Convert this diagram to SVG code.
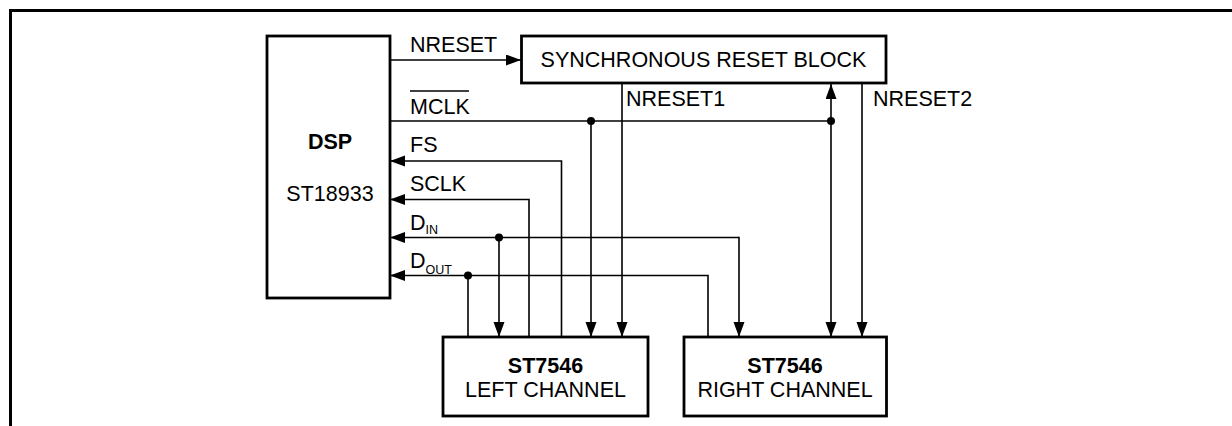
<svg xmlns="http://www.w3.org/2000/svg" width="1232" height="426" viewBox="0 0 1232 426">
<style>
.box{fill:#fff;stroke:#000;stroke-width:2.8}
.w{fill:none;stroke:#000;stroke-width:1.6}
.t{font-family:"Liberation Sans",Arial,sans-serif;font-size:21.5px;fill:#000}
.b{font-weight:bold}
.s{font-size:12.5px}
.dot{fill:#000}
</style>
<defs>
<marker id="ah" markerUnits="userSpaceOnUse" markerWidth="16" markerHeight="12" refX="15" refY="5.5" orient="auto" viewBox="0 0 16 12">
<path d="M0,0 L15,5.5 L0,11 z" fill="#000"/>
</marker>
</defs>
<g id="frame">
<path d="M10.5,426 V10.5 H1232" fill="none" stroke="#000" stroke-width="3"/>
</g>
<g id="connectors">
<line class="w" x1="390" y1="60" x2="521" y2="60" marker-end="url(#ah)"/>
<line class="w" x1="390" y1="121" x2="831" y2="121"/>
<line class="w" x1="591" y1="121" x2="591" y2="337" marker-end="url(#ah)"/>
<line class="w" x1="831" y1="121" x2="831" y2="84" marker-end="url(#ah)"/>
<line class="w" x1="831" y1="121" x2="831" y2="337" marker-end="url(#ah)"/>
<line class="w" x1="622" y1="83" x2="622" y2="337" marker-end="url(#ah)"/>
<line class="w" x1="862" y1="83" x2="862" y2="337" marker-end="url(#ah)"/>
<polyline class="w" points="561.5,337 561.5,161 390,161" marker-end="url(#ah)"/>
<polyline class="w" points="529,337 529,199.5 390,199.5" marker-end="url(#ah)"/>
<line class="w" x1="739" y1="237.5" x2="390" y2="237.5" marker-end="url(#ah)"/>
<line class="w" x1="739" y1="236.7" x2="739" y2="337" marker-end="url(#ah)"/>
<line class="w" x1="499" y1="237.5" x2="499" y2="337" marker-end="url(#ah)"/>
<polyline class="w" points="708,337 708,275.5 390,275.5" marker-end="url(#ah)"/>
<line class="w" x1="468" y1="275.5" x2="468" y2="337"/>
<circle class="dot" cx="591" cy="121" r="4"/>
<circle class="dot" cx="831" cy="121" r="4"/>
<circle class="dot" cx="499" cy="237.5" r="4"/>
<circle class="dot" cx="468" cy="275.5" r="4"/>
<text class="t" x="410" y="52">NRESET</text>
<text class="t" x="410" y="114">MCLK</text>
<line x1="410" y1="91" x2="469" y2="91" stroke="#000" stroke-width="1.6"/>
<text class="t" x="626" y="106">NRESET1</text>
<text class="t" x="873" y="106">NRESET2</text>
<text class="t" x="410" y="152">FS</text>
<text class="t" x="410" y="191">SCLK</text>
<text class="t" x="410" y="230">D<tspan class="s" dy="4">IN</tspan></text>
<text class="t" x="410" y="268">D<tspan class="s" dy="6">OUT</tspan></text>
</g>
<g id="dsp">
<rect class="box" x="267" y="36" width="123" height="262"/>
<text class="t b" x="330" y="149" text-anchor="middle">DSP</text>
<text class="t" x="330" y="201" text-anchor="middle">ST18933</text>
</g>
<g id="sync">
<rect class="box" x="521.5" y="36" width="364.5" height="47"/>
<text class="t" x="703.5" y="67" text-anchor="middle">SYNCHRONOUS RESET BLOCK</text>
</g>
<g id="left">
<rect class="box" x="443" y="337" width="205" height="79"/>
<text class="t b" x="545.5" y="373" text-anchor="middle">ST7546</text>
<text class="t" x="545.5" y="397" text-anchor="middle">LEFT CHANNEL</text>
</g>
<g id="right">
<rect class="box" x="684" y="337" width="202.5" height="79"/>
<text class="t b" x="785" y="373" text-anchor="middle">ST7546</text>
<text class="t" x="785" y="397" text-anchor="middle">RIGHT CHANNEL</text>
</g>
</svg>
